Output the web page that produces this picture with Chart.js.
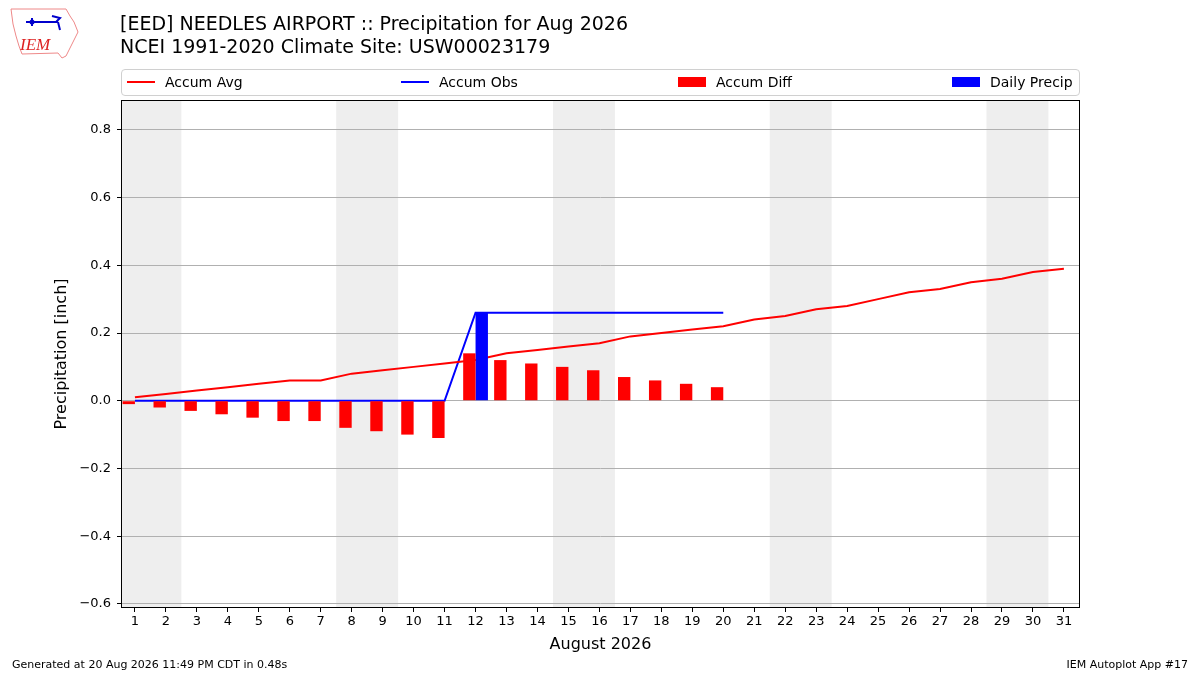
<!DOCTYPE html>
<html>
<head>
<meta charset="utf-8">
<script src="https://cdn.jsdelivr.net/npm/chart.js@4/dist/chart.umd.min.js"></script>
<style>
    body { margin: 0; background: #fff; font-family: "DejaVu Sans", sans-serif; }
    #wrap { position: relative; width: 1200px; height: 675px; overflow: hidden; }
    #cv { position: absolute; left: 0; top: 0; }
    .titulo { position: absolute; left: 120px; font-size: 19px; color: #000; white-space: nowrap; }
    #leyenda { position: absolute; left: 121px; top: 69px; width: 959px; height: 27px; box-sizing: border-box;
               border: 1px solid #d0d0d0; border-radius: 4px; background: #fff; }
    .item { position: absolute; top: 0; height: 25px; font-size: 14px; line-height: 25px; white-space: nowrap; }
    .sw { position: absolute; left: 0; }
    .sw.linea { top: 11px; width: 28px; height: 2px; }
    .sw.caja { top: 7px; width: 28px; height: 10px; }
    .item span { position: absolute; left: 38px; }
    .pie { position: absolute; top: 658px; font-size: 11px; color: #000; }
</style>
</head>
<body>
<div id="wrap">
    <canvas id="cv" width="1200" height="675"></canvas>

    <svg style="position:absolute;left:8px;top:6px" width="72" height="54" viewBox="0 0 72 54">
        <path d="M3 3 L58 3 L62 10 L66 16 L70 26 L66 34 L62 42 L58 50 L54 52 L50 47 L14 48 L11 40 L8 30 L5 18 Z"
              fill="none" stroke="#e88" stroke-width="1"/>
        <path d="M18 16 L50 16 M24 12 L24 20 M44 10 L52 12 L48 16 M50 16 L52 24" stroke="#00c" stroke-width="2" fill="none"/>
        <circle cx="24" cy="16" r="2.5" fill="#00c"/>
        <text x="12" y="44" font-family="Liberation Serif, serif" font-style="italic" font-size="17" fill="#d22">IEM</text>
    </svg>

    <div class="titulo" style="top:12px">[EED] NEEDLES AIRPORT :: Precipitation for Aug 2026</div>
    <div class="titulo" style="top:35px">NCEI 1991-2020 Climate Site: USW00023179</div>

    <div id="leyenda">
        <div class="item" style="left:5px"><div class="sw linea" style="background:#ff0000"></div><span>Accum Avg</span></div>
        <div class="item" style="left:279px"><div class="sw linea" style="background:#0000ff"></div><span>Accum Obs</span></div>
        <div class="item" style="left:556px"><div class="sw caja" style="background:#ff0000"></div><span>Accum Diff</span></div>
        <div class="item" style="left:830px"><div class="sw caja" style="background:#0000ff"></div><span>Daily Precip</span></div>
    </div>

    <div class="pie" style="left:12px">Generated at 20 Aug 2026 11:49 PM CDT in 0.48s</div>
    <div class="pie" style="right:12px">IEM Autoplot App #17</div>
</div>

<script>
// =====================================
// DATOS
// =====================================

const dias = [1, 2, 3, 4, 5, 6, 7, 8, 9, 10, 11, 12, 13, 14, 15, 16, 17, 18, 19, 20,
              21, 22, 23, 24, 25, 26, 27, 28, 29, 30, 31];

const accumAvg = [0.01, 0.02, 0.03, 0.04, 0.05, 0.06, 0.06, 0.08, 0.09, 0.10, 0.11, 0.12, 0.14, 0.15,
                  0.16, 0.17, 0.19, 0.20, 0.21, 0.22, 0.24, 0.25, 0.27, 0.28, 0.30, 0.32, 0.33, 0.35,
                  0.36, 0.38, 0.39];

const accumObs = [0, 0, 0, 0, 0, 0, 0, 0, 0, 0, 0, 0.26, 0.26, 0.26, 0.26, 0.26, 0.26, 0.26, 0.26, 0.26];

const accumDiff = [-0.01, -0.02, -0.03, -0.04, -0.05, -0.06, -0.06, -0.08, -0.09, -0.10, -0.11,
                   0.14, 0.12, 0.11, 0.10, 0.09, 0.07, 0.06, 0.05, 0.04];

const dailyPrecip = [0, 0, 0, 0, 0, 0, 0, 0, 0, 0, 0, 0.26, 0, 0, 0, 0, 0, 0, 0, 0];

// sabados (fin de semana = sabado + domingo)
const finDeSemana = [1, 8, 15, 22, 29];

const yTicks = [-0.6, -0.4, -0.2, 0.0, 0.2, 0.4, 0.6, 0.8];

// =====================================
// PLUGINS
// =====================================

const sombraFinde = {
    id: "sombraFinde",
    beforeDraw(chart) {
        const { ctx, chartArea: a, scales: { x } } = chart;
        ctx.save();
        ctx.beginPath();
        ctx.rect(a.left, a.top, a.width, a.height);
        ctx.clip();
        ctx.fillStyle = "#eeeeee";
        finDeSemana.forEach(d => {
            const x0 = x.getPixelForValue(d - 0.5);
            const x1 = x.getPixelForValue(d + 1.5);
            ctx.fillRect(x0, a.top, x1 - x0, a.height);
        });
        ctx.restore();
    }
};

const marco = {
    id: "marco",
    afterDraw(chart) {
        const { ctx, chartArea: a } = chart;
        ctx.save();
        ctx.strokeStyle = "#000";
        ctx.lineWidth = 1;
        ctx.strokeRect(Math.round(a.left) + 0.5, Math.round(a.top) + 0.5,
                       Math.round(a.width) - 1, Math.round(a.height) - 1);
        ctx.restore();
    }
};

const fmt = v => v.toFixed(1).replace("-", "\u2212");

// =====================================
// GRAFICO
// =====================================

new Chart(document.getElementById("cv"), {
    type: "bar",
    data: {
        labels: dias,
        datasets: [
            {
                label: "Accum Diff",
                data: accumDiff,
                backgroundColor: "#ff0000",
                barPercentage: 1,
                categoryPercentage: 0.8,
                order: 0
            },
            {
                label: "Daily Precip",
                data: dailyPrecip.map(v => v > 0 ? v : null),
                backgroundColor: "#0000ff",
                barPercentage: 1,
                categoryPercentage: 0.8,
                order: 0
            },
            {
                type: "line",
                label: "Accum Avg",
                data: accumAvg,
                borderColor: "#ff0000",
                borderWidth: 2,
                pointRadius: 0,
                tension: 0,
                order: 1
            },
            {
                type: "line",
                label: "Accum Obs",
                data: accumObs,
                borderColor: "#0000ff",
                borderWidth: 2,
                pointRadius: 0,
                tension: 0,
                order: 1
            }
        ]
    },
    options: {
        responsive: false,
        animation: false,
        layout: { padding: { left: 0, top: 100, right: 120, bottom: 0 } },
        plugins: {
            legend: { display: false },
            tooltip: { enabled: false }
        },
        scales: {
            x: {
                type: "linear",
                min: 0.55,
                max: 31.52,
                offset: false,
                afterFit: s => { s.height = 67; },
                afterBuildTicks: s => { s.ticks = dias.map(v => ({ value: v })); },
                ticks: {
                    color: "#000",
                    font: { family: "DejaVu Sans", size: 13 },
                    padding: 2,
                    maxRotation: 0,
                    autoSkip: false,
                    callback: v => String(v)
                },
                grid: { drawOnChartArea: false, offset: false, tickLength: 4, tickColor: "#000" },
                border: { display: false },
                title: {
                    display: true,
                    text: "August 2026",
                    color: "#000",
                    font: { family: "DejaVu Sans", size: 16 },
                    padding: { top: 0, bottom: 21 }
                }
            },
            y: {
                min: -0.612,
                max: 0.888,
                afterFit: s => { s.width = 121; },
                afterBuildTicks: s => { s.ticks = yTicks.map(v => ({ value: v })); },
                ticks: {
                    color: "#000",
                    font: { family: "DejaVu Sans", size: 13 },
                    padding: 6,
                    callback: v => fmt(v)
                },
                grid: { color: "#b0b0b0", lineWidth: 1, tickLength: 4, tickColor: "#000" },
                border: { display: false },
                title: {
                    display: true,
                    text: "Precipitation [inch]",
                    color: "#000",
                    font: { family: "DejaVu Sans", size: 16 },
                    padding: { top: 52, bottom: 0 }
                }
            }
        }
    },
    plugins: [sombraFinde, marco]
});
</script>
</body>
</html>
